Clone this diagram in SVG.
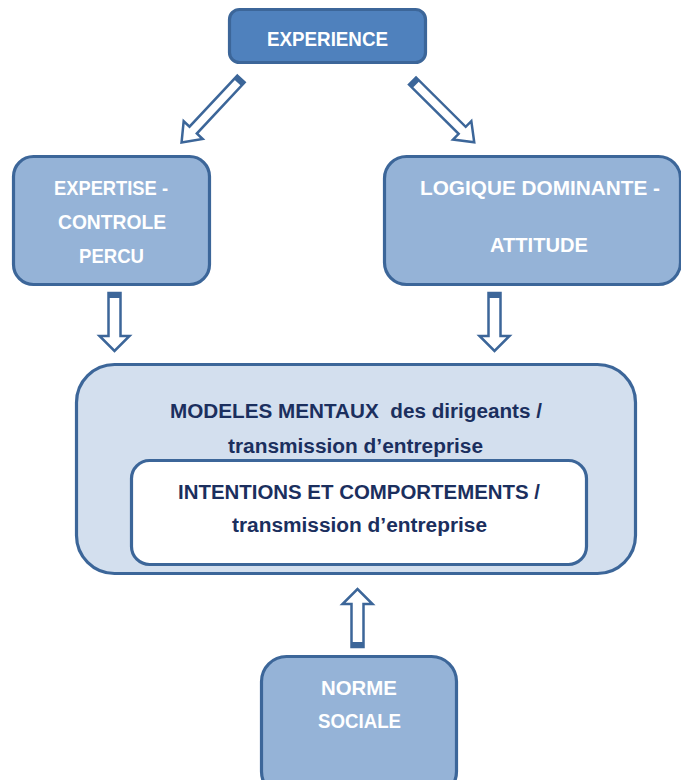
<svg xmlns="http://www.w3.org/2000/svg" width="681" height="780" viewBox="0 0 681 780">
  <style>
    .box { stroke: #3C6699; stroke-width: 3.2; }
    .dark { fill: #4F81BD; }
    .mid { fill: #95B3D7; }
    .light { fill: #D3DFEE; }
    .white { fill: #FFFFFF; }
    .t { font-family: "Liberation Sans", Arial, sans-serif; font-weight: bold; font-size: 20px; text-anchor: middle; }
    .tw { fill: #FFFFFF; }
    .tn { fill: #1B2F5E; }
    .arr { fill: #FFFFFF; stroke: #3C6699; stroke-width: 2.5; stroke-linejoin: miter; }
    .band { fill: #3C6699; }
  </style>
  <defs>
    <path id="arrowDiag" d="M -5,0 L 5,0 L 5,70 L 13,70 L 0,87 L -13,70 L -5,70 Z"/>
    <path id="arrowVert" d="M -6,0 L 6,0 L 6,43 L 15,43 L 0,58 L -15,43 L -6,43 Z"/>
  </defs>

  <g id="connectors">
    <g transform="translate(241,79) rotate(43.1)">
      <use href="#arrowDiag" class="arr"/>
      <rect x="-5" y="0" width="10" height="5" class="band"/>
    </g>
    <g transform="translate(412.5,81) rotate(-45.2)">
      <use href="#arrowDiag" class="arr"/>
      <rect x="-5" y="0" width="10" height="5" class="band"/>
    </g>
    <g transform="translate(114.5,293)">
      <use href="#arrowVert" class="arr"/>
      <rect x="-6" y="0" width="12" height="5" class="band"/>
    </g>
    <g transform="translate(494.5,293)">
      <use href="#arrowVert" class="arr"/>
      <rect x="-6" y="0" width="12" height="5" class="band"/>
    </g>
    <g transform="translate(357.5,647) rotate(180)">
      <use href="#arrowVert" class="arr"/>
      <rect x="-6" y="0" width="12" height="5" class="band"/>
    </g>
  </g>

  <g id="experience">
    <rect x="229.5" y="9.5" width="196" height="53" rx="10" class="box dark"/>
    <text x="327.5" y="46" class="t tw" textLength="121" lengthAdjust="spacingAndGlyphs">EXPERIENCE</text>
  </g>

  <g id="expertise">
    <rect x="13.5" y="156.5" width="196" height="128" rx="20" class="box mid"/>
    <text x="111" y="195" class="t tw" textLength="114" lengthAdjust="spacingAndGlyphs">EXPERTISE -</text>
    <text x="112" y="229" class="t tw" textLength="108" lengthAdjust="spacingAndGlyphs">CONTROLE</text>
    <text x="111.5" y="263" class="t tw" textLength="65" lengthAdjust="spacingAndGlyphs">PERCU</text>
  </g>

  <g id="logique">
    <rect x="384.5" y="156.5" width="296" height="128" rx="22" class="box mid"/>
    <text x="540" y="195" class="t tw" textLength="240" lengthAdjust="spacingAndGlyphs">LOGIQUE DOMINANTE -</text>
    <text x="539" y="252" class="t tw" textLength="98" lengthAdjust="spacingAndGlyphs">ATTITUDE</text>
  </g>

  <g id="modeles">
    <rect x="76.5" y="364.5" width="559" height="209" rx="38" class="box light"/>
    <text x="356" y="418" class="t tn" textLength="372" lengthAdjust="spacingAndGlyphs" xml:space="preserve">MODELES MENTAUX  des dirigeants /</text>
    <text x="355.5" y="453" class="t tn" textLength="255" lengthAdjust="spacingAndGlyphs">transmission d’entreprise</text>
  </g>

  <g id="intentions">
    <rect x="131.5" y="460.5" width="455" height="104" rx="18" class="box white"/>
    <text x="359" y="499" class="t tn" textLength="362" lengthAdjust="spacingAndGlyphs">INTENTIONS ET COMPORTEMENTS /</text>
    <text x="359.5" y="532" class="t tn" textLength="255" lengthAdjust="spacingAndGlyphs">transmission d’entreprise</text>
  </g>

  <g id="norme">
    <rect x="261.5" y="656.5" width="195" height="140" rx="25" class="box mid"/>
    <text x="359" y="695" class="t tw" textLength="76" lengthAdjust="spacingAndGlyphs">NORME</text>
    <text x="359.5" y="728" class="t tw" textLength="83" lengthAdjust="spacingAndGlyphs">SOCIALE</text>
  </g>
</svg>
